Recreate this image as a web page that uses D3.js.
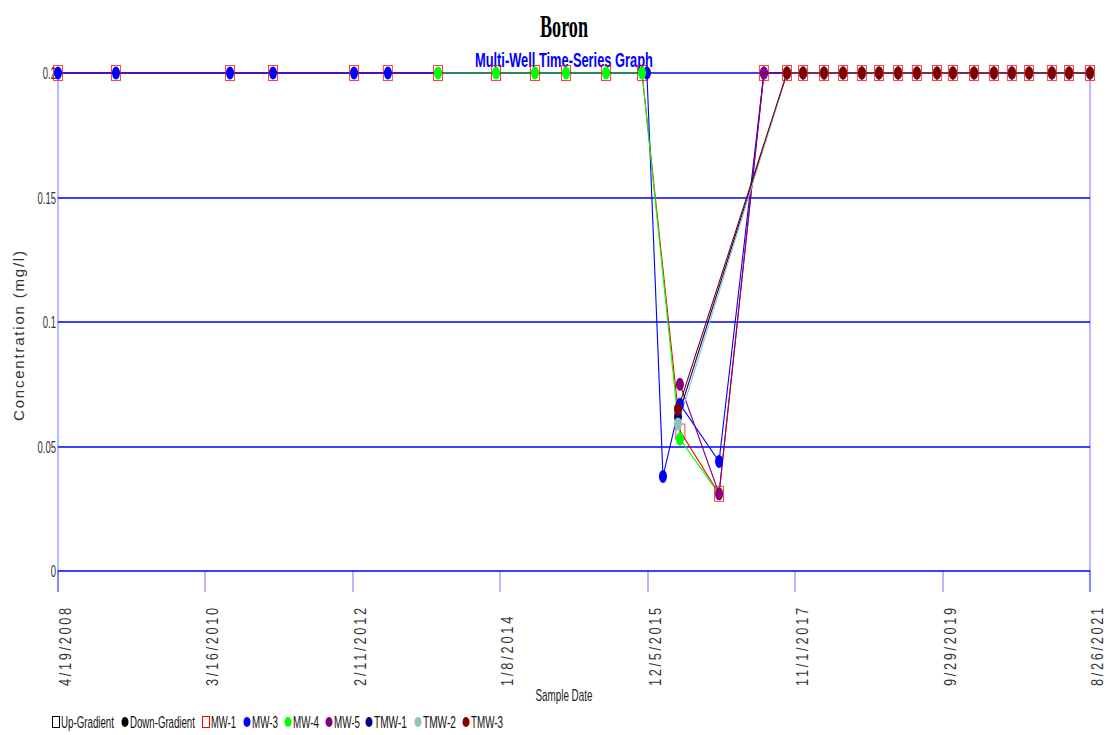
<!DOCTYPE html>
<html>
<head>
<meta charset="utf-8">
<script src="https://cdn.jsdelivr.net/npm/d3@7"></script>
<style>
  html, body { margin: 0; padding: 0; background: #ffffff; }
  svg { display: block; }
  text { font-family: 'Liberation Sans Narrow', 'Arial Narrow', 'Liberation Sans', Arial, sans-serif; }
</style>
</head>
<body>
<svg id="chart" width="1107" height="735"></svg>
<script>
// ---------------- DATA ----------------
const chartTitle = "Boron";
const chartSubtitle = "Multi-Well Time-Series Graph";
const yAxisTitle = "Concentration (mg/l)";
const xAxisTitle = "Sample Date";

const xDomain = ["2008-04-19", "2021-08-26"];
const yDomain = [0, 0.2];
const yTicks = [0, 0.05, 0.1, 0.15, 0.2];
const yTickLabels = ["0", "0.05", "0.1", "0.15", "0.2"];
const xTickDates = ["2008-04-19", "2010-03-16", "2012-02-11", "2014-01-08", "2015-12-05", "2017-11-01", "2019-09-29", "2021-08-26"];
const xTickLabels = ["4/19/2008", "3/16/2010", "2/11/2012", "1/8/2014", "12/5/2015", "11/1/2017", "9/29/2019", "8/26/2021"];

const legendNames = ["Up-Gradient", "Down-Gradient", "MW-1", "MW-3", "MW-4", "MW-5", "TMW-1", "TMW-2", "TMW-3"];
const legendColors = ["#000000", "#000000", "#ff0000", "#0000ff", "#00ff00", "#800080", "#000080", "#8cc4bc", "#800000"];
const legendShapes = ["square", "circle", "square", "circle", "circle", "circle", "circle", "circle", "circle"];

const mw1Dates = ["2008-04-19","2009-01-18","2010-07-11","2011-01-30","2012-02-17","2012-07-26",
  "2013-03-20","2013-12-19","2014-06-21","2014-11-15","2015-05-23","2015-11-09",
  "2016-05-08","2016-11-07","2017-06-07",
  "2017-09-24","2017-12-09","2018-03-18","2018-06-16","2018-09-13","2018-12-03","2019-03-03","2019-05-31","2019-09-03","2019-11-17","2020-02-25","2020-05-29","2020-08-22","2020-11-11","2021-02-27","2021-05-19","2021-08-26"];
const mw1Values = [0.2,0.2,0.2,0.2,0.2,0.2, 0.2,0.2,0.2,0.2,0.2,0.2, 0.056,0.031,0.2,
  0.2,0.2,0.2,0.2,0.2,0.2,0.2,0.2,0.2,0.2,0.2,0.2,0.2,0.2,0.2,0.2,0.2];

const mw3Dates = ["2008-04-19","2009-01-18","2010-07-11","2011-01-30","2012-02-17","2012-07-26",
  "2015-12-02","2016-02-16","2016-05-06","2016-11-07","2017-06-07",
  "2017-09-24","2017-12-09","2018-03-18","2018-06-16","2018-09-13","2018-12-03","2019-03-03","2019-05-31","2019-09-03","2019-11-17","2020-02-25","2020-05-29","2020-08-22","2020-11-11","2021-02-27","2021-05-19","2021-08-26"];
const mw3Values = [0.2,0.2,0.2,0.2,0.2,0.2, 0.2,0.038,0.067,0.044,0.2,
  0.2,0.2,0.2,0.2,0.2,0.2,0.2,0.2,0.2,0.2,0.2,0.2,0.2,0.2,0.2,0.2,0.2];

const mw4Dates = ["2013-03-20","2013-12-19","2014-06-21","2014-11-15","2015-05-23","2015-11-09","2016-05-06","2016-11-07"];
const mw4Values = [0.2,0.2,0.2,0.2,0.2,0.2,0.053,0.031];

const mw5Dates = ["2016-05-06","2016-11-07","2017-06-07",
  "2017-09-24","2017-12-09","2018-03-18","2018-06-16","2018-09-13","2018-12-03","2019-03-03","2019-05-31","2019-09-03","2019-11-17","2020-02-25","2020-05-29","2020-08-22","2020-11-11","2021-02-27","2021-05-19","2021-08-26"];
const mw5Values = [0.075,0.031,0.2, 0.2,0.2,0.2,0.2,0.2,0.2,0.2,0.2,0.2,0.2,0.2,0.2,0.2,0.2,0.2,0.2,0.2];

const tmw1Dates = ["2016-04-27",
  "2017-09-24","2017-12-09","2018-03-18","2018-06-16","2018-09-13","2018-12-03","2019-03-03","2019-05-31","2019-09-03","2019-11-17","2020-02-25","2020-05-29","2020-08-22","2020-11-11","2021-02-27","2021-05-19","2021-08-26"];
const tmw1Values = [0.062, 0.2,0.2,0.2,0.2,0.2,0.2,0.2,0.2,0.2,0.2,0.2,0.2,0.2,0.2,0.2,0.2,0.2];

const tmw2Dates = tmw1Dates.slice();
const tmw2Values = [0.059, 0.2,0.2,0.2,0.2,0.2,0.2,0.2,0.2,0.2,0.2,0.2,0.2,0.2,0.2,0.2,0.2,0.2];

const tmw3Dates = tmw1Dates.slice();
const tmw3Values = [0.065, 0.2,0.2,0.2,0.2,0.2,0.2,0.2,0.2,0.2,0.2,0.2,0.2,0.2,0.2,0.2,0.2,0.2];

// ---------------- BUILD ----------------
(function () {
const parse = d3.utcParse("%Y-%m-%d");
const series = [
  {name: "MW-1",  color: "#ff0000", shape: "square", dates: mw1Dates,  values: mw1Values},
  {name: "MW-3",  color: "#0000ff", shape: "circle", dates: mw3Dates,  values: mw3Values},
  {name: "MW-4",  color: "#00ff00", shape: "circle", dates: mw4Dates,  values: mw4Values},
  {name: "MW-5",  color: "#800080", shape: "circle", dates: mw5Dates,  values: mw5Values},
  {name: "TMW-1", color: "#000080", shape: "circle", dates: tmw1Dates, values: tmw1Values},
  {name: "TMW-2", color: "#8cc4bc", shape: "circle", dates: tmw2Dates, values: tmw2Values},
  {name: "TMW-3", color: "#800000", shape: "circle", dates: tmw3Dates, values: tmw3Values}
].map(s => ({...s, points: s.dates.map((d, i) => ({date: parse(d), value: s.values[i]}))}));

const svg = d3.select("#chart");
const pLeft = 58, pRight = 1090, pTop = 73, pBottom = 571, tickBottom = 592;

const x = d3.scaleUtc().domain(xDomain.map(parse)).range([pLeft, pRight]);
const y = d3.scaleLinear().domain(yDomain).range([pBottom, pTop]);

function fitText(parent, str, tx, ty, w, anchor, rot, styles) {
  const t = parent.append("text").text(str);
  Object.entries(styles || {}).forEach(([k, v]) => t.style(k, v));
  const nat = t.node().getComputedTextLength() || 1;
  const sx = w / nat;
  const shift = -anchor * w;
  t.attr("transform", `translate(${tx},${ty}) rotate(${rot || 0}) translate(${shift},0) scale(${sx},1)`);
  return t;
}

// Titles
fitText(svg, chartTitle, 564, 37, 48, 0.5, 0, {
  "font-family": "'Liberation Serif', 'Times New Roman', serif",
  "font-weight": "bold", "font-size": "32px", "fill": "#000"});
fitText(svg, chartSubtitle, 564, 67, 178, 0.5, 0, {
  "font-family": "'Liberation Sans', Arial, sans-serif",
  "font-weight": "bold", "font-size": "21px", "fill": "#0000ff"});

// Horizontal gridlines
const grid = svg.append("g");
grid.selectAll("line.h").data(yTicks).join("line")
  .attr("x1", pLeft).attr("x2", pRight)
  .attr("y1", d => Math.round(y(d))).attr("y2", d => Math.round(y(d)))
  .attr("stroke", "#0000ff").attr("stroke-width", 1.6);

// Vertical frame lines and x ticks
grid.append("line").attr("x1", pLeft).attr("x2", pLeft).attr("y1", pTop).attr("y2", tickBottom)
  .attr("stroke", "#0000ff").attr("stroke-width", 1).attr("stroke-opacity", 0.55);
grid.append("line").attr("x1", pRight).attr("x2", pRight).attr("y1", pTop).attr("y2", tickBottom)
  .attr("stroke", "#0000ff").attr("stroke-width", 1).attr("stroke-opacity", 0.55);
grid.selectAll("line.xt").data(xTickDates).join("line")
  .attr("x1", d => Math.round(x(parse(d)))).attr("x2", d => Math.round(x(parse(d))))
  .attr("y1", pBottom).attr("y2", tickBottom)
  .attr("stroke", "#0000ff").attr("stroke-width", 1).attr("stroke-opacity", 0.55);

// Y tick labels
const yl = svg.append("g");
yTicks.forEach((v, i) => {
  const s = yTickLabels[i];
  const digits = s.replace(/\./g, "").length, dots = s.length - digits;
  fitText(yl, s, 56, y(v) + 6, 5.3 * digits + 2.6 * dots, 1, 0, {"font-size": "17px", "fill": "#333"});
});

// X tick labels (rotated, condensed glyphs + letter spacing)
const xl = svg.append("g");
xTickDates.forEach((d, i) => {
  const lab = xTickLabels[i];
  const t = xl.append("text")
    .attr("transform", `translate(${x(parse(d)) + 13},686) rotate(-90) scale(0.8,1)`)
    .style("font-size", "16px").style("font-weight", "normal")
    .attr("fill", "#333")
    .attr("textLength", (8.8 * lab.length - 1) / 0.8)
    .attr("lengthAdjust", "spacing")
    .text(lab);
});

// Axis titles
svg.append("text")
  .attr("transform", "translate(24,336) rotate(-90)")
  .attr("text-anchor", "middle")
  .style("font-size", "15px").attr("fill", "#333")
  .attr("textLength", 170).attr("lengthAdjust", "spacing")
  .text(yAxisTitle);

fitText(svg, xAxisTitle, 564, 701, 57, 0.5, 0, {"font-size": "16px", "fill": "#222"});

// Lines
const lineGen = d3.line().x(d => x(d.date)).y(d => y(d.value));
svg.append("g").selectAll("path").data(series).join("path")
  .attr("d", s => lineGen(s.points))
  .attr("fill", "none").attr("stroke", s => s.color).attr("stroke-width", 1.1);

// Markers
const markers = svg.append("g");
series.forEach(s => {
  const g = markers.append("g");
  if (s.shape === "square") {
    g.selectAll("rect").data(s.points).join("rect")
      .attr("x", d => x(d.date) - 4.5).attr("y", d => y(d.value) - 7.5)
      .attr("width", 9).attr("height", 15)
      .attr("fill", "none").attr("stroke", s.color).attr("stroke-width", 1).attr("stroke-opacity", 0.75);
  } else {
    g.selectAll("ellipse").data(s.points).join("ellipse")
      .attr("cx", d => x(d.date)).attr("cy", d => y(d.value))
      .attr("rx", 4).attr("ry", 6.5)
      .attr("fill", s.color);
  }
});

// Legend
const legendTextX = [61, 130, 211, 252, 293, 334, 374, 423, 471];
const legendTextW = [53, 65, 25, 26, 26, 26, 33, 33, 32];
const lg = svg.append("g");
const ly = 722;
legendNames.forEach((name, i) => {
  const mx = legendTextX[i] - 5;
  if (legendShapes[i] === "square") {
    lg.append("rect").attr("x", mx - 3.5).attr("y", ly - 5.5).attr("width", 7).attr("height", 11)
      .attr("fill", "none").attr("stroke", legendColors[i]).attr("stroke-width", 1);
  } else {
    lg.append("ellipse").attr("cx", mx).attr("cy", ly).attr("rx", 3.5).attr("ry", 5)
      .attr("fill", legendColors[i]);
  }
  fitText(lg, name, legendTextX[i], ly + 6, legendTextW[i], 0, 0, {"font-size": "16px", "fill": "#111"});
});
})();
</script>
</body>
</html>
